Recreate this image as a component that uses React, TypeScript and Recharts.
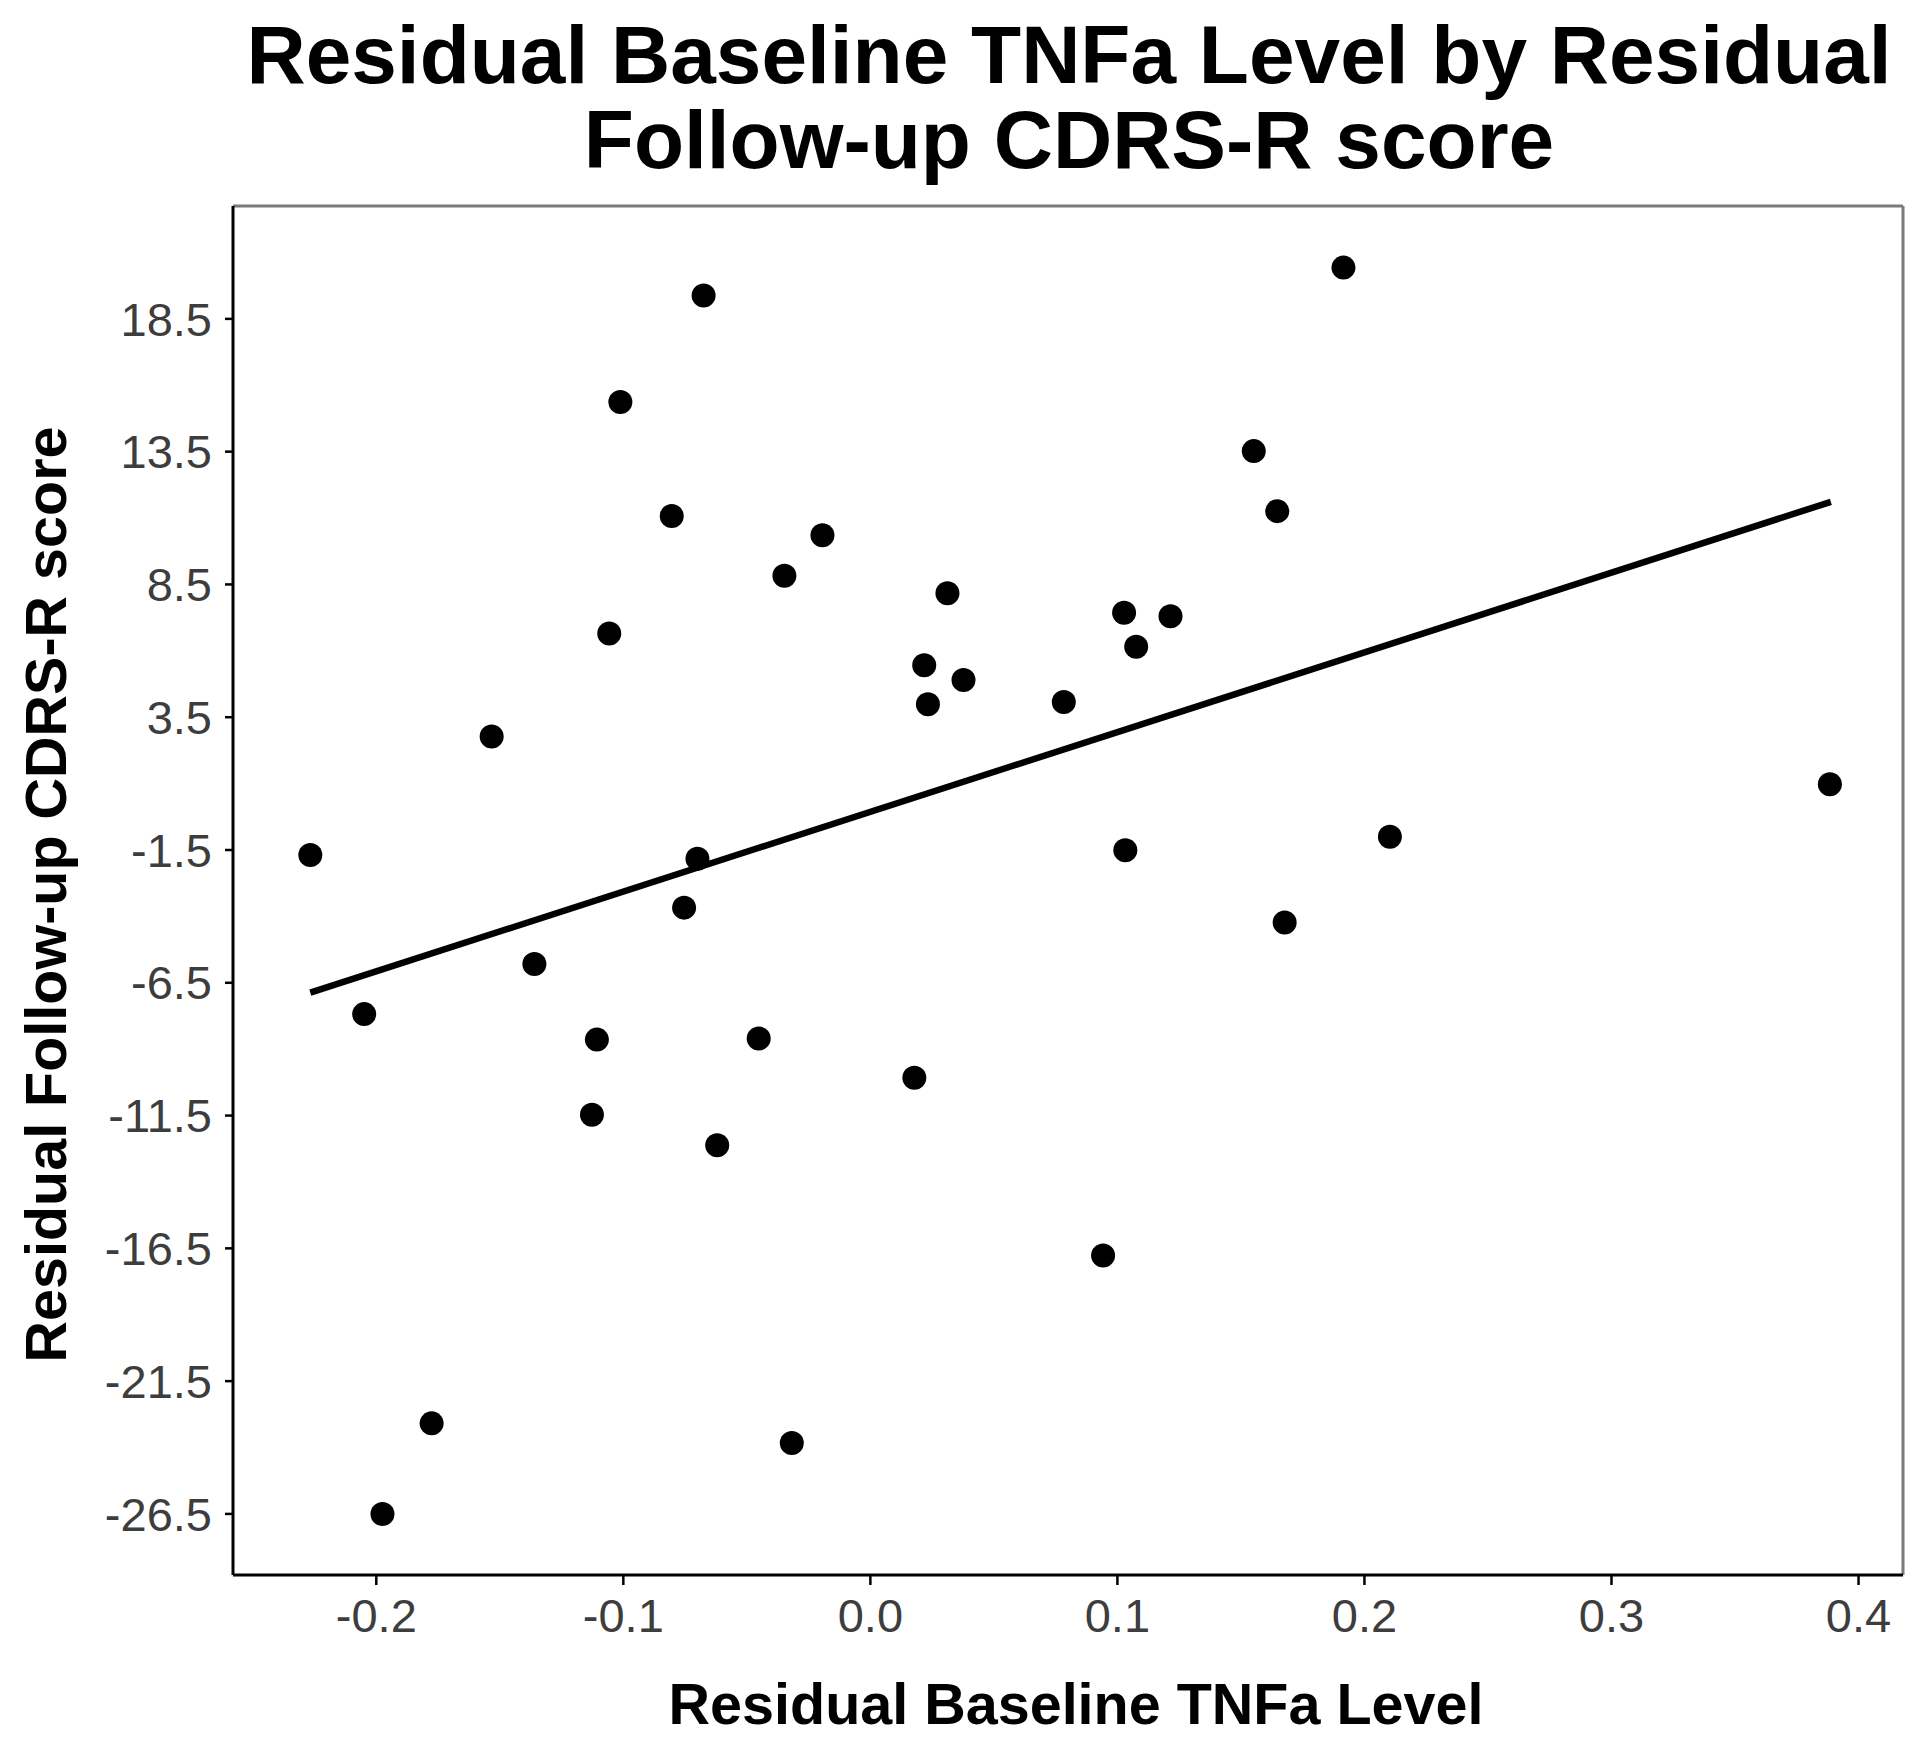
import { ScatterChart, Scatter, XAxis, YAxis, ReferenceLine, Label } from 'recharts';

// residual baseline TNFa level (x) and residual follow-up CDRS-R score (y), one entry per subject
const residualTnfa = [
  -0.2267, -0.2049, -0.1975, -0.1776, -0.1533, -0.136, -0.1107, -0.1127, -0.1057, -0.1012,
  -0.0804, -0.0754, -0.07, -0.0675, -0.062, -0.0452, -0.0348, -0.0318, -0.0194, 0.0178,
  0.0218, 0.0233, 0.0312, 0.0377, 0.0783, 0.0942, 0.1027, 0.1032, 0.1076, 0.1215,
  0.1552, 0.1647, 0.1677, 0.1915, 0.2103, 0.3884,
];
const residualCdrs = [
  -1.69, -7.68, -26.5, -23.09, 2.77, -5.79, -8.64, -11.47, 6.65, 15.37,
  11.08, -3.67, -1.83, 19.38, -12.62, -8.6, 8.83, -23.83, 10.35, -10.08,
  5.46, 3.99, 8.17, 4.9, 4.07, -16.77, 7.43, -1.51, 6.15, 7.3,
  13.52, 11.26, -4.23, 20.43, -1.0, 0.98,
];

// ends of the fitted line
const fitX = [-0.2267, 0.3888];
const fitY = [-6.87, 11.61];

const xTicks = [-0.2, -0.1, 0, 0.1, 0.2, 0.3, 0.4];
const yTicks = [-26.5, -21.5, -16.5, -11.5, -6.5, -1.5, 3.5, 8.5, 13.5, 18.5];
const xDomain = [-0.258, 0.418];
const yDomain = [-28.8, 22.75];

const titleLines = ['Residual Baseline TNFa Level by Residual', 'Follow-up CDRS-R score'];
const xTitle = 'Residual Baseline TNFa Level';
const yTitle = 'Residual Follow-up CDRS-R score';

const FONT = '"Liberation Sans", Arial, sans-serif';

const points = residualTnfa.map((x, i) => ({ x, y: residualCdrs[i] }));

const Dot = (props: any) => <circle cx={props.cx} cy={props.cy} r={12} fill="#000" />;

const XTitle = (props: any) => {
  const vb = props.viewBox;
  return (
    <text x={vb.x + vb.width / 2 + 8} y={vb.y + 149} textAnchor="middle" fontFamily={FONT}
      fontWeight="bold" fontSize={57.5} fill="#000">
      {xTitle}
    </text>
  );
};

const YTitle = (props: any) => {
  const vb = props.viewBox;
  const cx = 66;
  const cy = vb.y + vb.height / 2 + 4;
  return (
    <text x={cx} y={cy} transform={`rotate(-90 ${cx} ${cy})`} textAnchor="middle" fontFamily={FONT}
      fontWeight="bold" fontSize={57.5} fill="#000">
      {yTitle}
    </text>
  );
};

export default function App() {
  const tickStyle = { fill: '#3d3d3d', fontSize: 47, fontFamily: FONT };
  return (
    <div style={{ position: 'absolute', left: 0, top: 0, width: 1920, height: 1747, background: '#fff' }}>
      <svg width={1920} height={200} style={{ position: 'absolute', left: 0, top: 0 }}>
        <text x={1069} y={83} textAnchor="middle" fontFamily={FONT} fontWeight="bold" fontSize={82} fill="#000">
          {titleLines[0]}
        </text>
        <text x={1069} y={168} textAnchor="middle" fontFamily={FONT} fontWeight="bold" fontSize={82} fill="#000">
          {titleLines[1]}
        </text>
      </svg>
      <div style={{ position: 'absolute', left: 0, top: 0 }}>
        <ScatterChart width={1920} height={1747} margin={{ top: 206, right: 17, bottom: 72, left: 0 }}>
          <XAxis
            type="number"
            dataKey="x"
            domain={xDomain}
            ticks={xTicks}
            interval={0}
            allowDataOverflow
            height={100}
            tickSize={10}
            tickMargin={14}
            tick={tickStyle}
            tickLine={{ stroke: '#000', strokeWidth: 2.5 }}
            axisLine={{ stroke: '#000', strokeWidth: 3 }}
            tickFormatter={(v: number) => v.toFixed(1)}
          >
            <Label content={XTitle} />
          </XAxis>
          <YAxis
            type="number"
            dataKey="y"
            domain={yDomain}
            ticks={yTicks}
            interval={0}
            allowDataOverflow
            width={233}
            tickSize={8}
            tickMargin={13}
            tick={tickStyle}
            tickLine={{ stroke: '#000', strokeWidth: 2.5 }}
            axisLine={{ stroke: '#000', strokeWidth: 3 }}
            tickFormatter={(v: number) => v.toFixed(1)}
          >
            <Label content={YTitle} />
          </YAxis>
          <ReferenceLine y={yDomain[1]} stroke="#7a7a7a" strokeWidth={3} />
          <ReferenceLine x={xDomain[1]} stroke="#7a7a7a" strokeWidth={3} />
          <Scatter data={points} shape={Dot} isAnimationActive={false} />
          <ReferenceLine
            segment={[{ x: fitX[0], y: fitY[0] }, { x: fitX[1], y: fitY[1] }]}
            stroke="#000"
            strokeWidth={6.5}
            ifOverflow="visible"
          />
        </ScatterChart>
      </div>
    </div>
  );
}
